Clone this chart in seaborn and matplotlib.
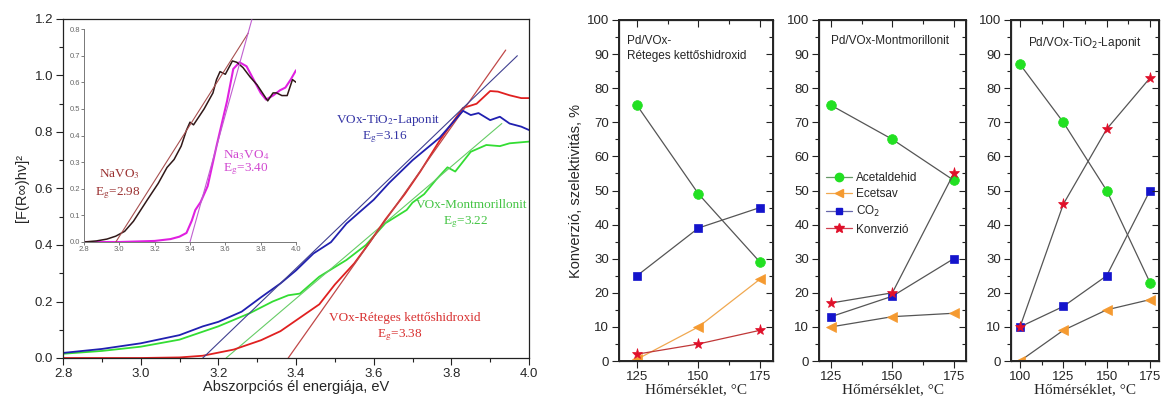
import matplotlib
matplotlib.use("Agg")
import matplotlib.pyplot as plt
from matplotlib.ticker import MultipleLocator
from matplotlib.lines import Line2D
import seaborn as sns

sns.set_theme(style="ticks")
plt.rcParams['font.family'] = ['Liberation Sans', 'DejaVu Sans']

# ---- left panel: Kubelka-Munk curves ----
e_blue = [2.8, 2.9, 3.0, 3.1, 3.16, 3.2, 3.26, 3.31, 3.36, 3.40, 3.445, 3.49, 3.53, 3.60, 3.64,
          3.70, 3.77, 3.83, 3.85, 3.87, 3.90, 3.925, 3.95, 3.98, 4.0]
f_blue = [0.018, 0.032, 0.052, 0.081, 0.112, 0.128, 0.164, 0.215, 0.264, 0.31, 0.37, 0.41, 0.476, 0.56, 0.62,
          0.70, 0.78, 0.875, 0.86, 0.867, 0.842, 0.854, 0.83, 0.819, 0.807]
e_green = [2.8, 2.9, 3.0, 3.1, 3.2, 3.28, 3.34, 3.38, 3.41, 3.46, 3.53, 3.58, 3.63, 3.685, 3.70,
           3.73, 3.76, 3.79, 3.81, 3.85, 3.89, 3.925, 3.95, 4.0]
f_green = [0.015, 0.025, 0.04, 0.065, 0.112, 0.158, 0.20, 0.222, 0.228, 0.288, 0.347, 0.40, 0.477, 0.524, 0.55,
           0.58, 0.63, 0.675, 0.66, 0.73, 0.754, 0.75, 0.76, 0.766]
e_red = [2.8, 3.0, 3.1, 3.16, 3.24, 3.31, 3.36, 3.42, 3.46, 3.50, 3.55, 3.59, 3.63, 3.68, 3.72,
         3.77, 3.83, 3.865, 3.90, 3.92, 3.95, 3.98, 4.0]
f_red = [0.0, 0.0, 0.002, 0.008, 0.03, 0.063, 0.095, 0.152, 0.19, 0.26, 0.335, 0.41, 0.49, 0.58, 0.66,
         0.77, 0.885, 0.90, 0.945, 0.943, 0.93, 0.92, 0.92]

tan_blue_x, tan_blue_y = [3.16, 3.97], [0.0, 1.07]
tan_green_x, tan_green_y = [3.22, 3.93], [0.0, 0.83]
tan_red_x, tan_red_y = [3.38, 3.94], [0.0, 1.09]

# inset: sodium vanadates
e_navo3 = [2.8, 2.87, 2.93, 2.98, 3.03, 3.08, 3.16, 3.22, 3.27, 3.31, 3.35, 3.38, 3.40, 3.42, 3.45,
           3.48, 3.53, 3.55, 3.57, 3.60, 3.64, 3.665, 3.70, 3.74, 3.78, 3.84, 3.87, 3.89, 3.92, 3.95, 3.98, 4.0]
f_navo3 = [0.0, 0.004, 0.011, 0.022, 0.04, 0.078, 0.16, 0.22, 0.28, 0.31, 0.36, 0.42, 0.45, 0.44, 0.47,
           0.50, 0.56, 0.61, 0.64, 0.63, 0.68, 0.675, 0.655, 0.62, 0.59, 0.53, 0.56, 0.56, 0.55, 0.55, 0.61, 0.60]
e_na3vo4 = [2.8, 3.0, 3.2, 3.29, 3.34, 3.38, 3.41, 3.43, 3.44, 3.46, 3.50, 3.55, 3.61, 3.645, 3.68,
            3.72, 3.76, 3.80, 3.83, 3.87, 3.91, 3.94, 3.97, 4.0]
f_na3vo4 = [0.0, 0.0, 0.004, 0.011, 0.02, 0.034, 0.08, 0.12, 0.13, 0.15, 0.21, 0.36, 0.53, 0.65, 0.675,
            0.66, 0.61, 0.56, 0.535, 0.55, 0.57, 0.58, 0.61, 0.645]
tan_navo3_x, tan_navo3_y = [2.98, 3.73], [0.0, 0.785]
tan_na3vo4_x, tan_na3vo4_y = [3.40, 3.75], [0.0, 0.835]

# ---- right panels: conversion / selectivity ----
temps_ldh = [125, 150, 175]
acet_ldh = [75, 49, 29]
ecet_ldh = [0.5, 10, 24]
co2_ldh = [25, 39, 45]
konv_ldh = [2, 5, 9]

temps_mont = [125, 150, 175]
acet_mont = [75, 65, 53]
ecet_mont = [10, 13, 14]
co2_mont = [13, 19, 30]
konv_mont = [17, 20, 55]

temps_lap = [100, 125, 150, 175]
acet_lap = [87, 70, 50, 23]
ecet_lap = [0, 9, 15, 18]
co2_lap = [10, 16, 25, 50]
konv_lap = [10, 46, 68, 83]

series_names = ["Acetaldehid", "Ecetsav", "CO$_2$", "Konverzió"]

W, H = 1163, 403
fig = plt.figure(figsize=(W / 100, H / 100), dpi=100)


def px_axes(x0, y0, x1, y1):
    return fig.add_axes([x0 / W, 1 - y1 / H, (x1 - x0) / W, (y1 - y0) / H])


def style_ticks(a, direction='out'):
    a.tick_params(which='both', direction=direction, color='#222')
    a.tick_params(which='major', length=5, width=0.8)
    a.tick_params(which='minor', length=3, width=0.8)


# main spectra panel
ax = px_axes(63, 19, 529, 358)
sns.lineplot(x=e_green, y=f_green, color="#33dd33", lw=1.3, ax=ax)
sns.lineplot(x=tan_green_x, y=tan_green_y, color="#66cc66", lw=0.8, ax=ax)
sns.lineplot(x=e_red, y=f_red, color="#e02020", lw=1.3, ax=ax)
sns.lineplot(x=tan_red_x, y=tan_red_y, color="#c04848", lw=0.9, ax=ax)
sns.lineplot(x=e_blue, y=f_blue, color="#2020b0", lw=1.3, ax=ax)
sns.lineplot(x=tan_blue_x, y=tan_blue_y, color="#404090", lw=0.8, ax=ax)
ax.set_xlim(2.8, 4.0)
ax.set_ylim(0, 1.2)
ax.xaxis.set_major_locator(MultipleLocator(0.2))
ax.xaxis.set_minor_locator(MultipleLocator(0.1))
ax.yaxis.set_major_locator(MultipleLocator(0.2))
ax.yaxis.set_minor_locator(MultipleLocator(0.1))
style_ticks(ax)
ax.tick_params(labelsize=9.5, pad=2)
for s in ax.spines.values():
    s.set_visible(True)
    s.set_color('#222')
    s.set_linewidth(0.9)
ax.set_xlabel("Abszorpciós él energiája, eV", fontsize=10.5, labelpad=0)
ax.set_ylabel("[F(R∞)hν]²", fontsize=10.5, labelpad=4)

serif = dict(family=['Liberation Serif', 'DejaVu Serif'], math_fontfamily='stix', ha='center', va='center')
ax.text(0.697, 0.702, "VOx-TiO$_2$-Laponit", color="#3535a5", fontsize=9.5, transform=ax.transAxes, **serif)
ax.text(0.691, 0.652, "E$_\\mathrm{g}$=3.16", color="#3535a5", fontsize=9.5, transform=ax.transAxes, **serif)
ax.text(0.876, 0.451, "VOx-Montmorillonit", color="#44c444", fontsize=9.5, transform=ax.transAxes, **serif)
ax.text(0.865, 0.401, "E$_\\mathrm{g}$=3.22", color="#44c444", fontsize=9.5, transform=ax.transAxes, **serif)
ax.text(0.734, 0.118, "VOx-Réteges kettőshidroxid", color="#d83030", fontsize=9.5, transform=ax.transAxes, **serif)
ax.text(0.723, 0.068, "E$_\\mathrm{g}$=3.38", color="#d83030", fontsize=9.5, transform=ax.transAxes, **serif)

# inset
ins = px_axes(84, 29, 296, 242)
ins.set_facecolor('white')
sns.lineplot(x=e_na3vo4, y=f_na3vo4, color="#e020e0", lw=1.5, ax=ins)
sns.lineplot(x=e_navo3, y=f_navo3, color="#301818", lw=1.1, ax=ins)
ins.plot(tan_navo3_x, tan_navo3_y, color="#a85050", lw=0.8, clip_on=False)
ins.plot(tan_na3vo4_x, tan_na3vo4_y, color="#c060d0", lw=0.8, clip_on=False)
ins.set_xlim(2.8, 4.0)
ins.set_ylim(0, 0.8)
ins.xaxis.set_major_locator(MultipleLocator(0.2))
ins.yaxis.set_major_locator(MultipleLocator(0.1))
ins.tick_params(direction='out', length=2, width=0.6, labelsize=5.5, colors='#666', pad=1)
for side in ['top', 'right']:
    ins.spines[side].set_visible(False)
for side in ['left', 'bottom']:
    ins.spines[side].set_color('#777')
    ins.spines[side].set_linewidth(0.7)
ins.set_xlabel("")
ins.set_ylabel("")
ins.text(0.165, 0.319, "NaVO$_3$", color="#9a3030", fontsize=9.5, transform=ins.transAxes, **serif)
ins.text(0.16, 0.23, "E$_\\mathrm{g}$=2.98", color="#9a3030", fontsize=9.5, transform=ins.transAxes, **serif)
ins.text(0.764, 0.408, "Na$_3$VO$_4$", color="#d048d0", fontsize=9.5, transform=ins.transAxes, **serif)
ins.text(0.764, 0.343, "E$_\\mathrm{g}$=3.40", color="#d048d0", fontsize=9.5, transform=ins.transAxes, **serif)

# right panels
mk = [dict(marker='o', color='#22e022', ms=7),
      dict(marker='<', color='#f59a30', ms=7),
      dict(marker='s', color='#1414cc', ms=6),
      dict(marker='*', color='#e0102a', ms=8)]
gray = '#555555'

panels = [
    (619, 773, (117.7, 180.3), [125, 150, 175], temps_ldh,
     [acet_ldh, ecet_ldh, co2_ldh, konv_ldh], [gray, '#f0a850', gray, '#c03838']),
    (819, 966, (120.1, 180), [125, 150, 175], temps_mont,
     [acet_mont, ecet_mont, co2_mont, konv_mont], [gray, gray, gray, gray]),
    (1011, 1159, (94.8, 180.2), [100, 125, 150, 175], temps_lap,
     [acet_lap, ecet_lap, co2_lap, konv_lap], [gray, gray, gray, gray]),
]

axes_r = []
for x0, x1, xl, xt, temps, vals, lcols in panels:
    a = px_axes(x0, 20, x1, 361)
    for v, m, lc in zip(vals, mk, lcols):
        sns.lineplot(x=temps, y=v, ax=a, color=lc, lw=0.9, marker=m['marker'], markersize=m['ms'],
                     markerfacecolor=m['color'], markeredgecolor=m['color'], markeredgewidth=0.5)
    a.set_xlim(*xl)
    a.set_ylim(0, 100)
    a.set_xticks(xt)
    a.xaxis.set_minor_locator(MultipleLocator(12.5))
    a.yaxis.set_major_locator(MultipleLocator(10))
    a.yaxis.set_minor_locator(MultipleLocator(5))
    style_ticks(a)
    a.tick_params(labelsize=9.5, pad=2)
    for s in a.spines.values():
        s.set_visible(True)
        s.set_color('#222')
        s.set_linewidth(0.9)
    # mirrored inward ticks on top and right
    tx = a.twinx()
    tx.set_ylim(0, 100)
    tx.yaxis.set_major_locator(MultipleLocator(10))
    tx.yaxis.set_minor_locator(MultipleLocator(5))
    style_ticks(tx, 'in')
    tx.tick_params(labelright=False)
    ty = a.twiny()
    ty.set_xlim(*xl)
    ty.set_xticks(xt)
    ty.xaxis.set_minor_locator(MultipleLocator(12.5))
    style_ticks(ty, 'in')
    ty.tick_params(labeltop=False)
    a.set_xlabel("Hőmérséklet, °C", fontsize=11, family=['Liberation Serif', 'DejaVu Serif'], labelpad=0)
    a.set_ylabel("")
    axes_r.append(a)

axes_r[0].set_ylabel("Konverzió, szelektivitás, %", fontsize=10.5, labelpad=3)
axes_r[0].text(0.05, 0.955, "Pd/VOx-\nRéteges kettőshidroxid", transform=axes_r[0].transAxes,
               fontsize=8.5, ha='left', va='top', linespacing=1.35)
axes_r[1].text(0.48, 0.955, "Pd/VOx-Montmorillonit", transform=axes_r[1].transAxes,
               fontsize=8.5, ha='center', va='top')
axes_r[2].text(0.5, 0.955, "Pd/VOx-TiO$_2$-Laponit", transform=axes_r[2].transAxes,
               fontsize=8.5, ha='center', va='top', math_fontfamily='dejavusans')

handles = [Line2D([], [], color=lc, lw=0.9, marker=m['marker'], markersize=m['ms'] - 1,
                  markerfacecolor=m['color'], markeredgecolor=m['color'])
           for m, lc in zip(mk, ['#669966', '#f0a850', '#6666aa', '#d04050'])]
axes_r[1].legend(handles, series_names, loc='upper left', bbox_to_anchor=(0.0, 0.575),
                 frameon=False, fontsize=8.5, handlelength=2.2, handletextpad=0.3,
                 labelspacing=0.35, borderaxespad=0.2)

fig.savefig("out.png", dpi=100)
